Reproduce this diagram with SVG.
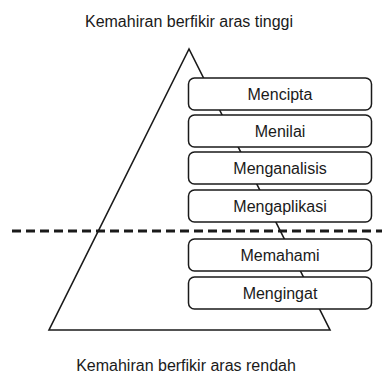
<svg xmlns="http://www.w3.org/2000/svg" width="382" height="374" viewBox="0 0 382 374">
<style>
.t{font-family:"Liberation Sans",Arial,sans-serif;font-size:16px;fill:#1a1a1a;text-anchor:middle}
.box{fill:#fff;stroke:#1a1a1a;stroke-width:1.5}
.tri{fill:#fff;stroke:#1a1a1a;stroke-width:1.6;stroke-linejoin:miter}
</style>
<rect width="382" height="374" fill="#fff"/>
<text class="t" x="189" y="27">Kemahiran berfikir aras tinggi</text>
<g id="pyramid">
<polygon class="tri" points="189,49 49,330 330,330"/>
</g>
<g id="connectors">
<line x1="12" y1="231" x2="382" y2="231" stroke="#1a1a1a" stroke-width="3" stroke-dasharray="9,5"/>
</g>
<g id="mencipta"><rect class="box" x="188.5" y="78" width="183" height="32" rx="6"/><text class="t" x="280" y="99.5">Mencipta</text></g>
<g id="menilai"><rect class="box" x="188.5" y="115" width="183" height="32" rx="6"/><text class="t" x="280" y="136.5">Menilai</text></g>
<g id="menganalisis"><rect class="box" x="188.5" y="152" width="183" height="32" rx="6"/><text class="t" x="280" y="173.5">Menganalisis</text></g>
<g id="mengaplikasi"><rect class="box" x="188.5" y="190" width="183" height="32" rx="6"/><text class="t" x="280" y="211.5">Mengaplikasi</text></g>
<g id="memahami"><rect class="box" x="188.5" y="239" width="183" height="32" rx="6"/><text class="t" x="280" y="260.5">Memahami</text></g>
<g id="mengingat"><rect class="box" x="188.5" y="277" width="183" height="32" rx="6"/><text class="t" x="280" y="298.5">Mengingat</text></g>
<text class="t" x="186" y="371">Kemahiran berfikir aras rendah</text>
</svg>
